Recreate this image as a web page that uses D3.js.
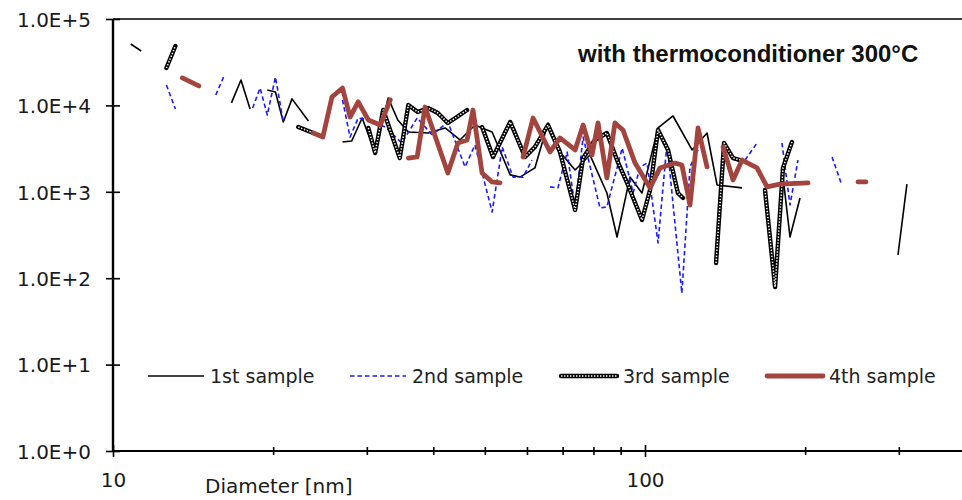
<!DOCTYPE html>
<html>
<head>
<meta charset="utf-8">
<script src="https://cdn.jsdelivr.net/npm/d3@7"></script>
<style>
  html, body { margin: 0; padding: 0; background: #fff; }
  svg { display: block; }
  .tick-label { font-family: "DejaVu Sans", Verdana, sans-serif; font-size: 20px; fill: #1a1a1a; }
  .legend-label { font-family: "DejaVu Sans", Verdana, sans-serif; font-size: 19px; fill: #222; }
  .title { font-family: "Liberation Sans", Arial, sans-serif; font-size: 24px; font-weight: bold; fill: #111; }
</style>
</head>
<body>
<div id="chart"></div>
<script>
// number concentration vs particle diameter, [diameter nm, value], null = gap in the curve
const sample1 = [
  [10.8, 51400], [11.3, 42600], null,
  [16.7, 10700], [17.4, 19700], [18.1, 9090], null,
  [19.5, 15100], [20.2, 14300], [20.9, 6430], [21.7, 11900], [23.3, 6600], null,
  [27.0, 3770], [28.1, 3870], [29.4, 7150], [31.1, 2810], [32.9, 12200], [34.3, 6780],
  [35.9, 4920], [39.1, 4790], [42.1, 5480], [44.9, 3980], [47.9, 5930], [49.4, 5480],
  [51.6, 4920], [55.8, 1570], [58.2, 1480], [62.1, 1890], [65.7, 6260], [69.2, 2890],
  [73.9, 1790], [78.8, 2670], [84.8, 969], [88.6, 300], [93.7, 1480], [98.7, 969],
  [105.8, 5480], [112.9, 7540], [122.6, 3050], [130.8, 4790], [136.6, 1200], [152.2, 1110], null,
  [180.9, 1890], [187.3, 300], [195.6, 848], null,
  [298.9, 186], [310.7, 1230]
];
const sample2 = [
  [12.6, 17200], [13.1, 9090], null,
  [15.6, 13200], [16.2, 22500], null,
  [18.3, 9330], [18.9, 15900], [19.5, 7740], [20.2, 21300], [20.9, 6430], null,
  [27.0, 11600], [27.9, 4310], [28.9, 7150], [30.2, 6780], [32.5, 5620], [34.9, 3670],
  [37.3, 7150], [39.8, 4550], [42.6, 6430], [45.9, 1940], [47.9, 3480], [51.6, 584],
  [53.9, 3300], [56.5, 1480], [59.0, 1480], [61.3, 2330], null,
  [66.3, 1140], [68.6, 1110], [71.4, 2890], [73.9, 649], [76.5, 4310], [82.3, 649],
  [84.8, 667], [90.6, 3210], [95.0, 969], [97.9, 1940], [100.9, 2150], [105.8, 256],
  [110.0, 3670], [117.3, 67], [121.5, 1940], [125.8, 3050], null,
  [154.2, 2330], [162.4, 3670], null,
  [180.9, 3670], [187.3, 704], [193.9, 2330], null,
  [224.7, 2530], [233.6, 1270]
];
const sample3 = [
  [12.6, 27100], [13.1, 48700], null,
  [22.3, 5620], [23.8, 4790], null,
  [30.2, 5480], [31.1, 2810], [32.2, 8850], [34.6, 2460], [35.9, 10100], [37.4, 8390],
  [39.1, 9330], [40.8, 8170], [42.6, 6260], [44.3, 7340], [46.3, 8850], null,
  [49.4, 5620], [51.8, 2530], [55.8, 6430], [59.5, 2530], [62.1, 3300], [65.7, 5930],
  [69.2, 2890], [73.9, 616], [76.5, 2460], [80.5, 3980], [84.8, 4790], [88.6, 2330],
  [92.9, 1200], [98.7, 472], [102.2, 1050], [105.8, 5190], [110.5, 3050], [115.3, 969],
  [117.9, 848], null,
  [136.0, 150], [140.8, 3670], [146.4, 2460], [150.9, 2330], null,
  [168.1, 1050], [175.6, 79], [181.7, 1890], [188.9, 3770]
];
const sample4 = [
  [13.5, 20800], [14.5, 16800], null,
  [23.8, 4790], [24.8, 4310], [25.8, 12500], [27.0, 15900], [27.9, 7340], [28.9, 11000],
  [30.2, 6780], [31.8, 5930], [33.2, 11600], null,
  [35.9, 2460], [37.3, 2530], [38.6, 9580], [42.6, 1650], [44.5, 3670], [46.3, 3980],
  [47.5, 8850], [49.4, 1650], [51.6, 1300], [53.4, 1270], null,
  [59.0, 2530], [61.6, 7150], [66.3, 2890], [69.2, 4200], [73.9, 3050], [76.5, 5930],
  [79.5, 2670], [81.6, 6260], [84.8, 1450], [87.8, 6260], [90.9, 5190], [95.8, 2150],
  [102.2, 1110], [106.7, 1890], [113.9, 2150], [117.3, 2040], [121.5, 704], [125.8, 5480],
  [130.8, 1940], null,
  [140.2, 3300], [146.4, 1370], [152.2, 2330], [162.4, 1890], [169.6, 1140], [179.4, 1230],
  [202.5, 1270], null,
  [251.4, 1300], [260.2, 1300]
];

const seriesNames = ['1st sample', '2nd sample', '3rd sample', '4th sample'];
const xTicks = [10, 20, 30, 40, 50, 60, 70, 80, 90, 100, 200, 300];
const xTickLabels = [10, 100];
const yTicks = [1, 10, 100, 1000, 10000, 100000];
const chartTitle = 'with thermoconditioner 300°C';
const xTitle = 'Diameter [nm]';

const width = 962;
const height = 500;
const plot = { left: 113, top: 19, right: 962, bottom: 451 };

const svg = d3.select('#chart').append('svg')
  .attr('width', width)
  .attr('height', height);

// one decade is 532 px wide, axis runs on past the right edge of the picture
const x = d3.scaleLog().domain([10, 1000]).range([plot.left, plot.left + 2 * 532]);
const y = d3.scaleLog().domain([1, 100000]).range([plot.bottom, plot.top]);

svg.append('clipPath').attr('id', 'plot-clip')
  .append('rect')
  .attr('x', plot.left).attr('y', plot.top)
  .attr('width', plot.right - plot.left).attr('height', plot.bottom - plot.top);

// frame: top edge
svg.append('line')
  .attr('x1', plot.left).attr('x2', plot.right)
  .attr('y1', plot.top).attr('y2', plot.top)
  .attr('stroke', '#000').attr('stroke-width', 1.6);

// y axis
const yAxis = svg.append('g')
  .attr('transform', `translate(${plot.left},0)`)
  .call(d3.axisLeft(y).tickValues(yTicks).tickSize(0).tickPadding(22)
    .tickFormat((d) => `1.0E+${Math.round(Math.log10(d))}`));
yAxis.select('.domain').remove();
yAxis.selectAll('.tick line')
  .attr('x1', -7).attr('x2', 7)
  .attr('stroke', '#000').attr('stroke-width', 1.6);
yAxis.selectAll('.tick text').attr('class', 'tick-label').attr('dy', '0.36em');

// x axis
const xAxis = svg.append('g')
  .attr('transform', `translate(0,${plot.bottom})`)
  .call(d3.axisBottom(x).tickValues(xTicks).tickSize(0).tickPadding(26)
    .tickFormat((d) => (xTickLabels.includes(d) ? String(d) : '')));
xAxis.select('.domain').remove();
xAxis.selectAll('.tick line')
  .attr('y1', (d) => (xTickLabels.includes(d) ? -6 : -4))
  .attr('y2', (d) => (xTickLabels.includes(d) ? 6 : 4))
  .attr('stroke', '#000').attr('stroke-width', 1.6);
xAxis.selectAll('.tick text').attr('class', 'tick-label').attr('dy', '0.5em');

svg.append('line')
  .attr('x1', plot.left).attr('x2', plot.right)
  .attr('y1', plot.bottom).attr('y2', plot.bottom)
  .attr('stroke', '#000').attr('stroke-width', 2.2);
svg.append('line')
  .attr('x1', plot.left).attr('x2', plot.left)
  .attr('y1', plot.top).attr('y2', plot.bottom)
  .attr('stroke', '#000').attr('stroke-width', 2.4);

svg.append('text')
  .attr('class', 'tick-label')
  .attr('x', 205).attr('y', 493)
  .text(xTitle);

svg.append('text')
  .attr('class', 'title')
  .attr('x', 578).attr('y', 62)
  .text(chartTitle);

const line = d3.line()
  .defined((d) => d !== null)
  .x((d) => x(d[0]))
  .y((d) => y(d[1]));

const styles = [
  [{ stroke: '#000', width: 1.6 }],
  [{ stroke: '#1a1aff', width: 1.6, dash: '4.5,3' }],
  [{ stroke: '#000', width: 4.4, cap: 'round' }, { stroke: '#fff', width: 1.5, dash: '1.4,1.6' }],
  [{ stroke: '#a3453e', width: 4.8, cap: 'round' }]
];

const seriesData = [sample1, sample2, sample3, sample4];
const marks = svg.append('g').attr('clip-path', 'url(#plot-clip)');

seriesData.forEach((data, i) => {
  styles[i].forEach((s) => {
    marks.append('path')
      .datum(data)
      .attr('d', line)
      .attr('fill', 'none')
      .attr('stroke', s.stroke)
      .attr('stroke-width', s.width)
      .attr('stroke-dasharray', s.dash || null)
      .attr('stroke-linecap', s.cap || 'butt')
      .attr('stroke-linejoin', 'round');
  });
});

// legend inside the plot
const legendY = 376;
const legendX = [148, 350, 561, 767];
const legend = svg.append('g');
seriesNames.forEach((name, i) => {
  const g = legend.append('g').attr('transform', `translate(${legendX[i]},${legendY})`);
  styles[i].forEach((s) => {
    g.append('line')
      .attr('x1', 0).attr('x2', 56)
      .attr('stroke', s.stroke)
      .attr('stroke-width', s.width)
      .attr('stroke-dasharray', s.dash || null)
      .attr('stroke-linecap', s.cap || 'butt');
  });
  g.append('text')
    .attr('class', 'legend-label')
    .attr('x', 62).attr('y', 0).attr('dy', '0.36em')
    .text(name);
});
</script>
</body>
</html>
